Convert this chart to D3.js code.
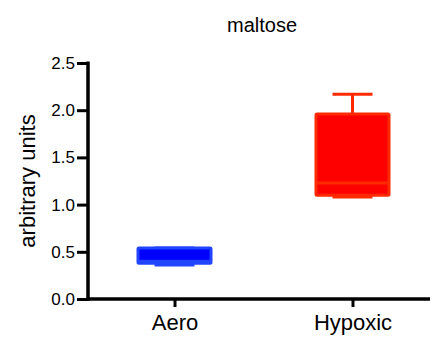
<!DOCTYPE html>
<html><head><meta charset="utf-8">
<script src="https://cdn.jsdelivr.net/npm/d3@7"></script>
<style>body{margin:0;background:#fff}svg{display:block}text{font-family:"Liberation Sans",Arial,sans-serif;fill:#000}</style>
</head><body>
<script>
const categories = ["Aero", "Hypoxic"];
const mins    = [0.36, 1.08];
const q1s     = [0.38, 1.10];
const medians = [0.40, 1.23];
const q3s     = [0.54, 1.96];
const maxs    = [0.54, 2.17];
const fills   = ["#0000ff", "#ff0000"];
const strokes = ["#2244ff", "#ff2a00"];
const yTicks  = [0, 0.5, 1.0, 1.5, 2.0, 2.5];
const title = "maltose";
const yLabel = "arbitrary units";

const W = 436, H = 339;
const svg = d3.select("body").append("svg").attr("width", W).attr("height", H);
const y = d3.scaleLinear().domain([0, 2.5]).range([299, 63]);
const x = d3.scalePoint().domain(categories).range([174.5, 352.5]);
const boxW = 73, capW = 40;

// title
svg.append("text").attr("x", 262).attr("y", 32).attr("text-anchor", "middle")
  .style("font-size", "20px").text(title);
// y label
svg.append("text").attr("transform", "translate(35,181) rotate(-90)")
  .attr("text-anchor", "middle").style("font-size", "22px").text(yLabel);

// y axis
const yAxis = svg.append("g").attr("transform", "translate(88,0)")
  .call(d3.axisLeft(y).tickValues(yTicks).tickFormat(d3.format(".1f")).tickSize(11).tickSizeOuter(0).tickPadding(2));
yAxis.select(".domain").attr("stroke-width", 3.5).attr("d", `M0,${y(2.5)-1.5}V${y(0)+1.75}`);
yAxis.selectAll(".tick line").attr("stroke-width", 3);
yAxis.selectAll(".tick text").style("font-size", "17px").style("font-family", "Liberation Sans, Arial, sans-serif");

// x axis
const xAxis = svg.append("g").attr("transform", `translate(0,${y(0)})`)
  .call(d3.axisBottom(x).tickSize(8).tickSizeOuter(0).tickPadding(7));
xAxis.select(".domain").attr("stroke-width", 3.5).attr("d", "M86.25,0H430");
xAxis.selectAll(".tick line").attr("stroke-width", 3);
xAxis.selectAll(".tick text").style("font-size", "22px").style("font-family", "Liberation Sans, Arial, sans-serif");

// boxes
categories.forEach((c, i) => {
  const cx = x(c);
  const g = svg.append("g");
  g.append("line").attr("x1", cx).attr("x2", cx).attr("y1", y(maxs[i])).attr("y2", y(q3s[i]))
    .attr("stroke", strokes[i]).attr("stroke-width", 3);
  g.append("line").attr("x1", cx).attr("x2", cx).attr("y1", y(q1s[i])).attr("y2", y(mins[i]))
    .attr("stroke", strokes[i]).attr("stroke-width", 3);
  g.append("line").attr("x1", cx - capW/2).attr("x2", cx + capW/2).attr("y1", y(maxs[i])).attr("y2", y(maxs[i]))
    .attr("stroke", strokes[i]).attr("stroke-width", 3);
  g.append("line").attr("x1", cx - capW/2).attr("x2", cx + capW/2).attr("y1", y(mins[i])).attr("y2", y(mins[i]))
    .attr("stroke", strokes[i]).attr("stroke-width", 3);
  g.append("rect").attr("x", cx - boxW/2).attr("y", y(q3s[i])).attr("width", boxW)
    .attr("height", y(q1s[i]) - y(q3s[i])).attr("fill", fills[i]).attr("stroke", strokes[i]).attr("stroke-width", 3).attr("rx", 1);
  g.append("line").attr("x1", cx - boxW/2).attr("x2", cx + boxW/2).attr("y1", y(medians[i])).attr("y2", y(medians[i]))
    .attr("stroke", strokes[i]).attr("stroke-width", 3);
});
</script>
</body></html>
